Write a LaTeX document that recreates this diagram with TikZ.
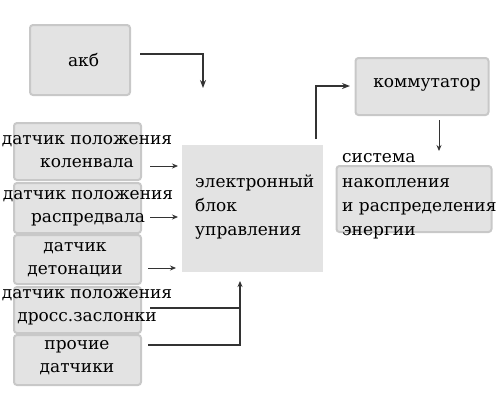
\documentclass[tikz,border=0pt]{standalone}
\usepackage{fontspec}
\setmainfont{DejaVu Serif}
\usetikzlibrary{arrows.meta}
\definecolor{boxfill}{HTML}{E3E3E3}
\definecolor{boxline}{HTML}{C8C8C8}
\definecolor{arrcol}{HTML}{333333}
\tikzset{
    box/.style = {draw = boxline, line width = 2pt, fill = boxfill, rounded corners = 3pt, inner sep = 0pt},
    flatbox/.style = {fill = boxfill, inner sep = 0pt},
    txt/.style = {align = center, font = \fontsize{17}{23.5}\selectfont, inner sep = 0pt},
    ltxt/.style = {align = left, font = \fontsize{17}{24.3}\selectfont, inner sep = 0pt},
    thinarr/.style = {-{Stealth[length = 6pt, width = 5pt]}, arrcol, line width = 0.8pt},
    thickarr/.style = {-{Stealth[length = 8pt, width = 6pt]}, arrcol, line width = 1.6pt}
}
\begin{document}
\begin{tikzpicture}[x = 1pt, y = -1pt]
        \useasboundingbox (0, 0) rectangle (500, 400);
        \node [box, minimum width = 100pt, minimum height = 70pt] (akb) at (80, 60) {};
        \node [txt] (akbtxt) at (83.5, 60) {акб};
        \node [box, minimum width = 127pt, minimum height = 57pt] (s1) at (77.5, 151.5) {};
        \node [box, minimum width = 127pt, minimum height = 50pt] (s2) at (77.5, 208) {};
        \node [box, minimum width = 127pt, minimum height = 49pt] (s3) at (77.5, 259.5) {};
        \node [box, minimum width = 127pt, minimum height = 46pt] (s4) at (77.5, 310) {};
        \node [box, minimum width = 127pt, minimum height = 50pt] (s5) at (77.5, 360) {};
        \node [txt] (s1txt) at (87, 151.5) {датчик положения\\коленвала};
        \node [txt] (s2txt) at (88, 208) {датчик положения\\распредвала};
        \node [txt] (s3txt) at (75, 259.5) {датчик\\детонации};
        \node [txt] (s4txt) at (87, 307) {датчик положения\\дросс.заслонки};
        \node [txt] (s5txt) at (77, 357.5) {прочие\\датчики};
        \node [flatbox, minimum width = 141pt, minimum height = 127pt] (ecu) at (252.5, 208.5) {};
        \node [ltxt, anchor = west] (ecutxt) at (195, 207) {электронный\\блок\\управления};
        \node [box, minimum width = 133pt, minimum height = 57pt] (komm) at (422, 86.5) {};
        \node [txt] (kommtxt) at (427, 85) {коммутатор};
        \node [box, minimum width = 155pt, minimum height = 66pt] (nak) at (414, 199) {};
        \node [ltxt, anchor = west] (naktxt) at (342, 196.5) {система\\накопления\\и распределения\\энергии};
        % arrows
        \coordinate (akbout) at (140, 54);
        \coordinate (ecutop) at (203, 88);
        \draw [thickarr] (akbout) -| (ecutop);
        \coordinate (a1) at (150, 166);
        \coordinate (b1) at (178, 166);
        \coordinate (a2) at (150, 217);
        \coordinate (b2) at (178, 217);
        \coordinate (a3) at (148, 268);
        \coordinate (b3) at (176, 268);
        \draw [thinarr] (a1) -- (b1);
        \draw [thinarr] (a2) -- (b2);
        \draw [thinarr] (a3) -- (b3);
        \coordinate (a4) at (150, 308);
        \coordinate (a5) at (148, 345);
        \coordinate (bus) at (240, 345);
        \coordinate (ecubot) at (240, 281);
        \draw [arrcol, line width = 1.6pt] (a4) -- (a4 -| bus);
        \draw [arrcol, line width = 1.6pt, -{Stealth[length = 6pt, width = 5pt]}] (a5) -- (bus) -- (ecubot);
        \coordinate (ecuout) at (316, 139);
        \coordinate (kommin) at (350, 86);
        \draw [thickarr] (ecuout) |- (kommin);
        \coordinate (kommout) at (439, 120);
        \coordinate (nakin) at (439, 151);
        \draw [thinarr] (kommout) -- (nakin);
    \end{tikzpicture}
\end{document}
